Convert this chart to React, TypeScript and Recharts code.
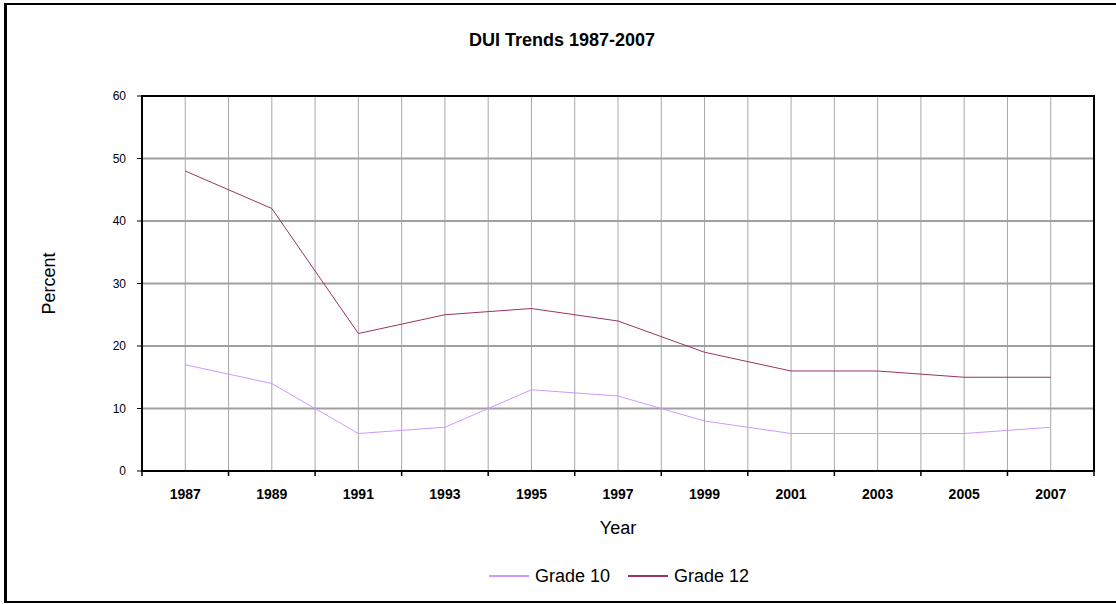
import React from 'react';
import { LineChart, Line, XAxis, YAxis, CartesianGrid, ReferenceArea } from 'recharts';

const years = [1987, 1989, 1991, 1993, 1995, 1997, 1999, 2001, 2003, 2005, 2007];
const grade10 = [17, 14, 6, 7, 13, 12, 8, 6, 6, 6, 7];
const grade12 = [48, 42, 22, 25, 26, 24, 19, 16, 16, 15, 15];

// every year gets a vertical gridline; even years carry the tick marks, odd years the labels
const gridYears = [1986, 1987, 1988, 1989, 1990, 1991, 1992, 1993, 1994, 1995, 1996, 1997, 1998, 1999, 2000, 2001, 2002, 2003, 2004, 2005, 2006, 2007, 2008];
const yTicks = [0, 10, 20, 30, 40, 50, 60];

const series = [
    { key: 'g10', name: 'Grade 10', color: '#CC99FF' },
    { key: 'g12', name: 'Grade 12', color: '#993366' },
];

const chartData = years.map((year, i) => ({ year, g10: grade10[i], g12: grade12[i] }));

const FONT = '"Liberation Sans", Arial, sans-serif';

const YearTick = (props: any) => {
    const { x, y, payload } = props;
    const year = payload.value as number;
    if (years.includes(year)) {
        return (
            <text x={x} y={y + 23} textAnchor="middle" fontFamily={FONT} fontSize={14} fontWeight="bold" fill="#000">
                {year}
            </text>
        );
    }
    if (year % 2 === 0) {
        return <line x1={x} x2={x} y1={y - 5} y2={y} stroke="#000" strokeWidth={1.5} />;
    }
    return null;
};

export default function App() {
    return (
        <div style={{ position: 'absolute', left: 0, top: 0, width: 1116, height: 604, overflow: 'hidden', background: '#fff', fontFamily: FONT }}>
            <div style={{ position: 'absolute', left: 4, top: 3, width: 1200, height: 596, borderLeft: '3px solid #000', borderTop: '2px solid #000', borderBottom: '2px solid #000' }} />
            <div style={{ position: 'absolute', left: 0, top: 30, width: 1124, textAlign: 'center', fontSize: 18, fontWeight: 'bold', lineHeight: '20px' }}>
                DUI Trends 1987-2007
            </div>
            <div style={{ position: 'absolute', left: 0, top: 0 }}>
                <LineChart width={1116} height={604} data={chartData} margin={{ top: 96, right: 22, left: 30, bottom: 70 }}>
                    <CartesianGrid horizontal={false} stroke="#a8a8a8" strokeWidth={1} />
                    <CartesianGrid vertical={false} stroke="#a0a0a0" strokeWidth={2} />
                    <XAxis
                        dataKey="year"
                        type="number"
                        domain={[1986, 2008]}
                        ticks={gridYears}
                        interval={0}
                        height={63}
                        tickSize={5}
                        tickMargin={0}
                        tickLine={false}
                        tick={<YearTick />}
                        axisLine={{ stroke: '#000', strokeWidth: 2 }}
                        label={{ value: 'Year', position: 'insideBottom', offset: 0, fontSize: 18, fill: '#000', fontFamily: FONT }}
                    />
                    <YAxis
                        type="number"
                        domain={[0, 60]}
                        ticks={yTicks}
                        width={112}
                        tickSize={5}
                        tickMargin={11}
                        tick={{ fontSize: 12, fill: '#000', fontFamily: FONT }}
                        tickLine={{ stroke: '#000' }}
                        axisLine={{ stroke: '#000', strokeWidth: 2 }}
                        label={{ value: 'Percent', angle: -90, position: 'insideLeft', offset: 18.5, fontSize: 18, fill: '#000', fontFamily: FONT, style: { textAnchor: 'middle' } }}
                    />
                    <ReferenceArea x1={1986} x2={2008} y1={0} y2={60} fill="none" stroke="#000" strokeWidth={2} ifOverflow="visible" />
                    {series.map(s => (
                        <Line
                            key={s.key}
                            type="linear"
                            dataKey={s.key}
                            name={s.name}
                            stroke={s.color}
                            strokeWidth={1}
                            dot={false}
                            activeDot={false}
                            isAnimationActive={false}
                        />
                    ))}
                </LineChart>
            </div>
            <div style={{ position: 'absolute', left: 489, top: 566, height: 20, display: 'flex', alignItems: 'center', fontSize: 18 }}>
                {series.map((s, i) => (
                    <div key={s.key} style={{ display: 'flex', alignItems: 'center', marginRight: i === 0 ? 18 : 0 }}>
                        <div style={{ width: 40, height: 1.5, background: s.color, marginRight: 6 }} />
                        <span>{s.name}</span>
                    </div>
                ))}
            </div>
        </div>
    );
}
